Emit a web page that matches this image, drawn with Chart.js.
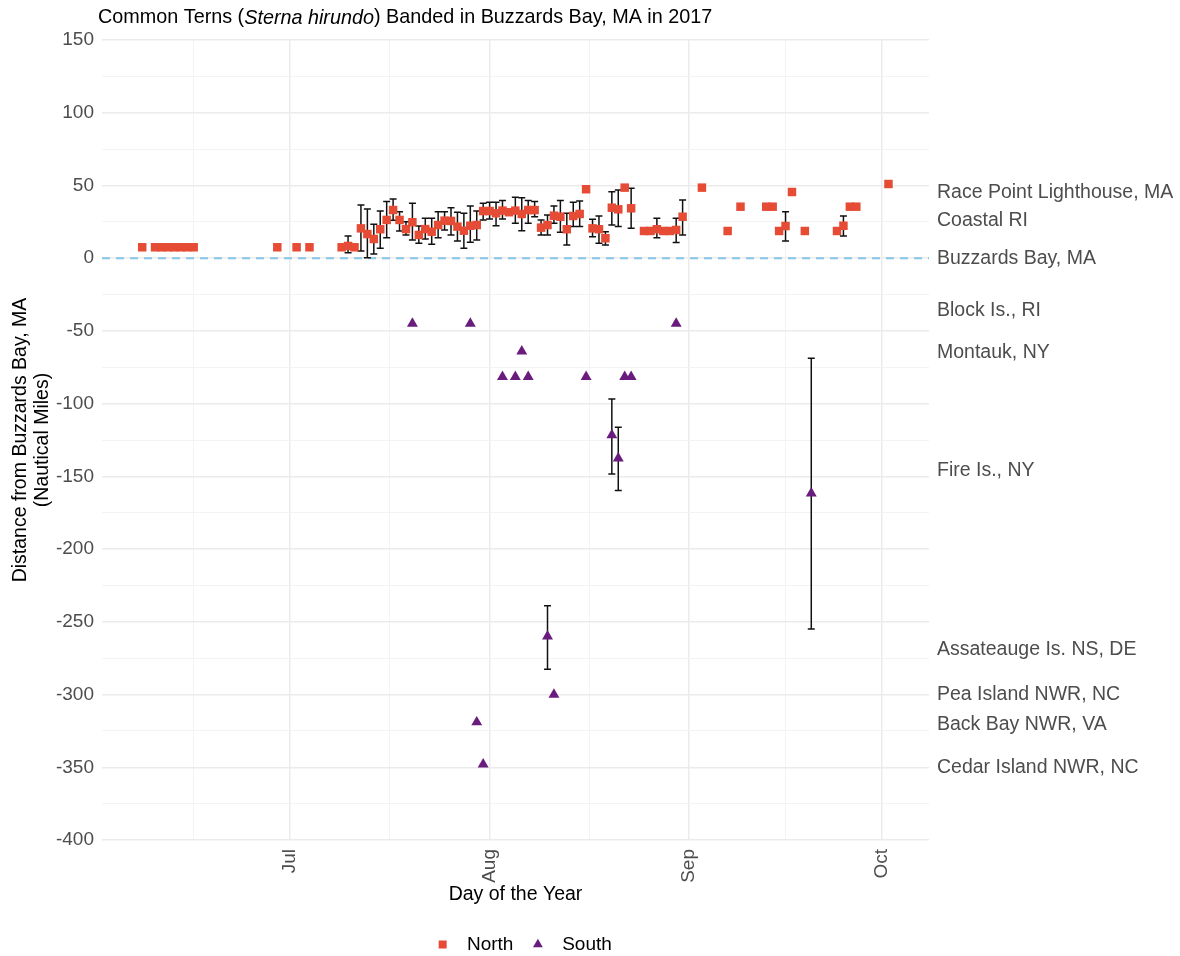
<!DOCTYPE html>
<html>
<head>
<meta charset="utf-8">
<script src="https://cdn.jsdelivr.net/npm/chart.js@4.4.1/dist/chart.umd.min.js"></script>
<style>
  html, body { margin: 0; padding: 0; background: #fff; }
</style>
</head>
<body>
<canvas id="js--chart--terns" width="1180" height="956"></canvas>
<script>
// North sightings: day of year, distance (nm), error bar low/high (null = no bar)
const northDays = [159, 161, 162, 163, 164, 165, 166, 167, 180, 183, 185,
  190, 191, 192, 193, 194, 195, 196, 197, 198, 199, 200, 201, 202, 203, 204, 205,
  206, 207, 208, 209, 210, 211, 212, 213, 214, 215, 216, 217, 218, 219, 220,
  221, 222, 223, 224, 225, 226, 227, 228, 229, 230, 231, 232, 233, 234, 235,
  237, 238, 239, 240, 241, 242, 243, 246, 250, 252, 256, 257, 258, 259, 260,
  262, 267, 268, 269, 270, 275];
const northDist = [7.5, 7.5, 7.5, 7.5, 7.5, 7.5, 7.5, 7.5, 7.5, 7.5, 7.5,
  7.5, 8.4, 7.5, 20.5, 16.6, 13.2, 19.9, 26.3, 33.1, 26.3, 20, 24.7, 16, 20, 18.2, 22.8,
  25.8, 25.6, 21.7, 18.9, 22.3, 22.8, 32.4, 32.4, 30.9, 32.7, 31.6, 32.7, 30.4, 33.1, 33.1,
  21, 22.8, 29.2, 28.5, 19.9, 29, 30.4, 47.4, 20.5, 19.9, 13.7, 34.7, 33.6, 48.5, 34.3,
  18.7, 18.7, 19.9, 18.7, 18.7, 19.4, 28.5, 48.5, 18.7, 35.4, 35.4, 35.4, 18.7, 22.1, 45.5,
  18.7, 18.7, 22.3, 35.4, 35.4, 51];
const northLow = [null, null, null, null, null, null, null, null, null, null, null,
  null, 3.8, null, 5, 0.3, 2.9, 6.8, 14.1, 26, 18.7, 16, 12.5, 10.2, 13.2, 9.6, 14,
  19.4, 16, 11.8, 6.8, 10.9, 12.5, 26.3, 27, 22.3, 27, null, 24, 18.9, 24, 28.5,
  16, 16, 24, 17.8, 9.1, 21.7, 21.7, null, 14.8, 10.2, 9.1, 22.8, 21.7, null, 20.5,
  null, null, 14.1, null, null, 10.7, 16, null, null, null, null, null, null, 11.8, null,
  null, null, 15.3, null, null, null];
const northHigh = [null, null, null, null, null, null, null, null, null, null, null,
  null, 15.3, null, 36.6, 33.8, 23.3, 32.4, 38.9, 40.7, 32, 25.1, 37.7, 22.1, 27.4, 27.4, 32,
  32, 34.7, 31.6, 30.9, 35.9, 32.4, 37.7, 38.4, 38.4, 39.6, null, 41.9, 41.6, 39.6, 38.9,
  26.3, 29.7, 35.9, 39.6, 30.9, 38.4, 39.3, null, 26.7, 29, 18.2, 45.7, 46.9, null, 48,
  null, null, 27.4, null, null, 27.4, 40, null, null, null, null, null, null, 32, null,
  null, null, 29, null, null, null];

// South sightings
const southDays = [201, 210, 211, 212, 215, 217, 218, 219, 222, 223, 228, 232, 233, 234, 235, 242, 263];
const southDist = [-45, -45, -319, -348, -81.5, -81.5, -64, -81.5, -260, -300, -81.5, -121.6, -137.6, -81.5, -81.5, -45, -161.6];
const southLow = [null, null, null, null, null, null, null, null, -282.6, null, null, -148.4, -159.8, null, null, null, -254.9];
const southHigh = [null, null, null, null, null, null, null, null, -238.9, null, null, -96.8, -116.3, null, null, null, -68.8];

// month breaks (day of year) and labels
const monthDays = [152, 182, 213, 244, 274];
const monthLabels = ['Jun', 'Jul', 'Aug', 'Sep', 'Oct'];

// place names on the right axis
const placeValues = [45, 26, 0, -36, -65, -146, -269, -300, -321, -350];
const placeLabels = ['Race Point Lighthouse, MA', 'Coastal RI', 'Buzzards Bay, MA', 'Block Is., RI',
  'Montauk, NY', 'Fire Is., NY', 'Assateauge Is. NS, DE', 'Pea Island NWR, NC', 'Back Bay NWR, VA',
  'Cedar Island NWR, NC'];

const homeLine = 0;
const titleParts = [['Common Terns (', false], ['Sterna hirundo', true], [') Banded in Buzzards Bay, MA in 2017', false]];

const FONT = '"Liberation Sans", Arial, Helvetica, sans-serif';
Chart.defaults.font.family = FONT;
Chart.defaults.color = '#4D4D4D';

const xMin = 152.75, xMax = 281.3;

// major breaks + minor breaks halfway between them
const gridDays = [];
monthDays.forEach((d, i) => {
  if (i > 0) gridDays.push((monthDays[i - 1] + d) / 2);
  gridDays.push(d);
});

function toPoints(days, dist, low, high) {
  return days.map((d, i) => ({x: d, y: dist[i], low: low[i], high: high[i]}));
}

const errorBars = {
  id: 'errorBars',
  beforeDatasetsDraw(chart) {
    const {ctx, chartArea, scales: {x, y}} = chart;
    ctx.save();
    // dashed line at Buzzards Bay
    const y0 = y.getPixelForValue(homeLine);
    ctx.strokeStyle = '#85C5E8';
    ctx.lineWidth = 2;
    ctx.setLineDash([8, 6]);
    ctx.beginPath();
    ctx.moveTo(chartArea.left, y0);
    ctx.lineTo(chartArea.right, y0);
    ctx.stroke();
    ctx.setLineDash([]);

    ctx.strokeStyle = '#111';
    ctx.lineWidth = 1.5;
    chart.data.datasets.forEach(ds => {
      ds.data.forEach(p => {
        if (p.low == null) return;
        const px = x.getPixelForValue(p.x);
        const top = y.getPixelForValue(p.high);
        const bot = y.getPixelForValue(p.low);
        ctx.beginPath();
        ctx.moveTo(px, top); ctx.lineTo(px, bot);
        ctx.moveTo(px - 3.5, top); ctx.lineTo(px + 3.5, top);
        ctx.moveTo(px - 3.5, bot); ctx.lineTo(px + 3.5, bot);
        ctx.stroke();
      });
    });
    ctx.restore();
  }
};

const mixedTitle = {
  id: 'mixedTitle',
  afterLayout(chart) {
    // ggplot centres the legend a little to the right of the panel centre
    chart.legend.left += 7;
    chart.legend.right += 7;
  },
  afterDraw(chart) {
    const ctx = chart.ctx;
    ctx.save();
    ctx.fillStyle = '#000';
    ctx.textBaseline = 'middle';
    let x = 98;
    titleParts.forEach(([text, italic]) => {
      ctx.font = (italic ? 'italic ' : '') + '19.8px ' + FONT;
      ctx.fillText(text, x, 18);
      x += ctx.measureText(text).width;
    });
    ctx.restore();
  }
};

const config = {
  type: 'scatter',
  data: {
    datasets: [
      {
        label: 'North',
        data: toPoints(northDays, northDist, northLow, northHigh),
        pointStyle: 'rect',
        pointRadius: 6,
        pointHoverRadius: 6,
        borderWidth: 0,
        backgroundColor: '#E64B35'
      },
      {
        label: 'South',
        data: toPoints(southDays, southDist, southLow, southHigh),
        pointStyle: 'triangle',
        pointRadius: 6.3,
        pointHoverRadius: 6.3,
        borderWidth: 0,
        backgroundColor: '#6A1B7E'
      }
    ]
  },
  options: {
    responsive: false,
    animation: false,
    layout: {padding: {top: 40, right: 0, bottom: -8, left: 0}},
    plugins: {
      tooltip: {enabled: false},
      legend: {
        position: 'bottom',
        fullSize: false,
        labels: {
          usePointStyle: true,
          boxWidth: 19,
          boxHeight: 8,
          padding: 15,
          color: '#000',
          font: {size: 19},
          generateLabels: chart => Chart.defaults.plugins.legend.labels.generateLabels(chart)
            .map(l => ({...l, text: ' ' + l.text}))
        }
      }
    },
    scales: {
      x: {
        type: 'linear',
        min: xMin,
        max: xMax,
        afterBuildTicks: s => { s.ticks = gridDays.filter(v => v >= xMin && v <= xMax).map(v => ({value: v})); },
        ticks: {
          autoSkip: false,
          minRotation: 90,
          maxRotation: 90,
          padding: 9,
          font: {size: 19},
          color: '#4D4D4D',
          callback: v => {
            const i = monthDays.indexOf(v);
            return i >= 0 ? monthLabels[i] : '';
          }
        },
        grid: {
          drawTicks: false,
          color: c => monthDays.includes(c.tick.value) ? '#EBEBEB' : '#F3F3F3',
          lineWidth: c => monthDays.includes(c.tick.value) ? 1.5 : 1
        },
        border: {display: false},
        title: {display: true, text: 'Day of the Year', color: '#000', font: {size: 19.5}, padding: {top: 0, bottom: 14}},
        afterFit: s => { s.height = 80; }
      },
      y: {
        min: -400,
        max: 150,
        ticks: {
          stepSize: 25,
          autoSkip: false,
          padding: 8,
          font: {size: 19},
          color: '#4D4D4D',
          callback: v => v % 50 === 0 ? String(v) : ''
        },
        grid: {
          drawTicks: false,
          color: c => c.tick.value % 50 === 0 ? '#EBEBEB' : '#F3F3F3',
          lineWidth: c => c.tick.value % 50 === 0 ? 1.5 : 1
        },
        border: {display: false},
        title: {
          display: true,
          text: ['Distance from Buzzards Bay, MA', '(Nautical Miles)'],
          color: '#000',
          font: {size: 19.5, lineHeight: 1.1},
          padding: {top: 10, bottom: 0}
        },
        afterFit: s => { s.width = 102; }
      },
      y2: {
        position: 'right',
        min: -400,
        max: 150,
        afterBuildTicks: s => { s.ticks = placeValues.map(v => ({value: v})); },
        ticks: {
          autoSkip: false,
          padding: 8,
          font: {size: 19.5},
          color: '#4D4D4D',
          callback: v => placeLabels[placeValues.indexOf(v)]
        },
        grid: {display: false, drawTicks: false},
        border: {display: false},
        afterFit: s => { s.width = 251; }
      }
    }
  },
  plugins: [errorBars, mixedTitle]
};

new Chart(document.getElementById('js--chart--terns'), config);
</script>
</body>
</html>
